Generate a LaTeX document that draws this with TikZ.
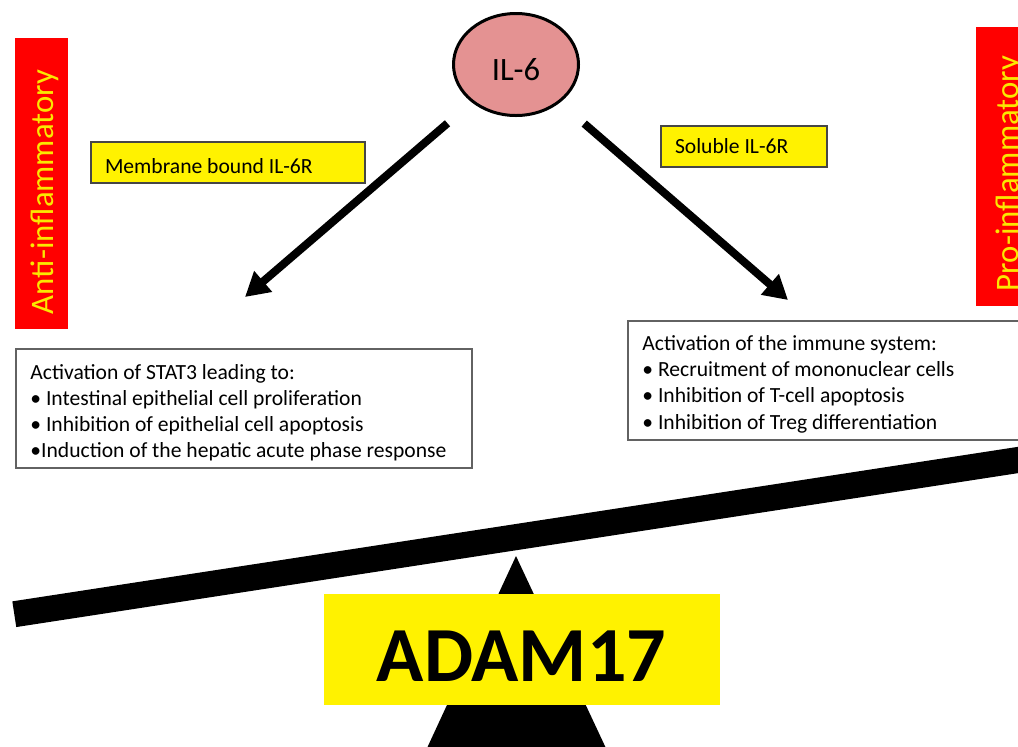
\documentclass[tikz,border=0pt]{standalone}
\usepackage{fontspec}
\setmainfont{Carlito}
\usetikzlibrary{arrows.meta,shapes.geometric}
\definecolor{ilpink}{RGB}{228,146,146}
\definecolor{sideyel}{RGB}{250,232,0}
\definecolor{boxgray}{RGB}{70,70,70}

\begin{document}
\begin{tikzpicture}[x=0.5pt,y=-0.5pt,
                    tag/.style={draw=boxgray,line width=1pt,fill=yellow,align=flush left,anchor=north west,
                                inner xsep=7pt,inner ysep=0pt,font=\fontsize{10.8}{13}\selectfont},
                    info/.style={draw=boxgray!85,line width=0.9pt,fill=white,align=flush left,anchor=north west,
                                 inner xsep=7.25pt,inner ysep=0pt,font=\fontsize{10.8}{12.9}\selectfont},
                    side/.style={fill=red,inner sep=0pt},
                    sidetxt/.style={rotate=90,anchor=base,text=sideyel,font=\fontsize{16.4}{18}\selectfont},
                    push/.style={line width=4pt,-{Triangle[length=12pt,width=13pt]},shorten <=16pt}]
  \useasboundingbox (0,0) rectangle (1018,746);
  \clip (0,0) rectangle (1018,746);
  % side labels
  \node[side,minimum width=26.5pt,minimum height=145.5pt] (antibox) at (41.5,183.5) {};
  \node[sidetxt] (antitxt) at (54,192) {Anti-inflammatory};
  \node[side,minimum width=32pt,minimum height=139.5pt] (probox) at (1008,166.5) {};
  \node[sidetxt] (protxt) at (1018,173.5) {Pro-inflammatory};
  % cytokine and the two receptor routes
  \node[ellipse,draw,line width=1.5pt,fill=ilpink,minimum width=62.5pt,minimum height=51pt,inner sep=0pt] (il6) at (516,64.5) {};
  \node[font=\fontsize{16.3}{18}\selectfont] (il6txt) at (516,69.5) {IL-6};
  \coordinate (lend) at (245,297);
  \coordinate (rend) at (788,300);
  \draw[push] (il6) -- (lend);
  \draw[push] (il6) -- (rend);
  \node[tag,text width=123pt,minimum height=20.5pt] (mem) at (90,141) {\rule{0pt}{11pt}Membrane bound IL-6R};
  \node[tag,text width=69pt,minimum height=20.5pt] (sol) at (660,125) {Soluble IL-6R};
  % outcomes
  \node[info,text width=213.5pt,minimum height=59.5pt] (stat) at (15,348)
    {\rule{0pt}{12pt}Activation of STAT3 leading to:\\
     • Intestinal epithelial cell proliferation\\
     • Inhibition of epithelial cell apoptosis\\
     •Induction of the hepatic acute phase response};
  \node[info,text width=212pt,minimum height=59.5pt,font=\fontsize{10.8}{13.1}\selectfont] (immune) at (627,320)
    {\rule{0pt}{11.2pt}Activation of the immune system:\\
     • Recruitment of mononuclear cells\\
     • Inhibition of T-cell apoptosis\\
     • Inhibition of Treg differentiation};
  % the balance
  \coordinate (beaml) at (14.3,614.2);
  \coordinate (beamr) at (1040,456.6);
  \draw[line width=13pt] (beaml) -- (beamr);
  \fill (516,556) -- (421.5,760) -- (611.5,760) -- cycle;
  \node[fill=yellow,minimum width=198pt,minimum height=55.5pt,inner sep=0pt] (adam) at (522,649.5) {};
  \node[font=\bfseries\fontsize{39}{40}\selectfont] (adamtxt) at (521.5,656) {ADAM17};
\end{tikzpicture}
\end{document}
